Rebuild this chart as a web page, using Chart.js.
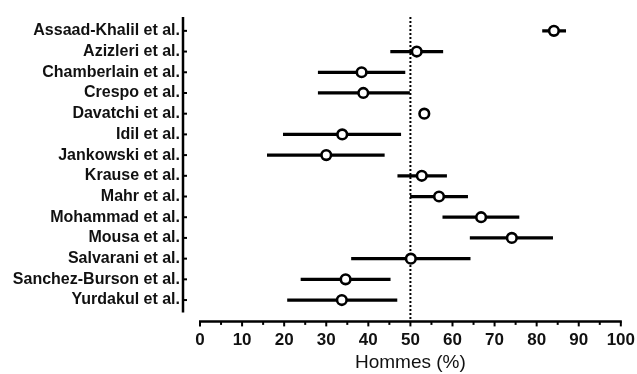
<!DOCTYPE html>
<html>
<head>
<meta charset="utf-8">
<script src="https://cdn.jsdelivr.net/npm/chart.js@4.4.1/dist/chart.umd.min.js"></script>
<style>
  html, body { margin: 0; padding: 0; background: #fff; }
</style>
</head>
<body>
<canvas id="graphique" width="637" height="374"></canvas>
<script>
// études (axe Y), de haut en bas
const etudes = [
  'Assaad-Khalil et al.', 'Azizleri et al.', 'Chamberlain et al.', 'Crespo et al.',
  'Davatchi et al.', 'Idil et al.', 'Jankowski et al.', 'Krause et al.',
  'Mahr et al.', 'Mohammad et al.', 'Mousa et al.', 'Salvarani et al.',
  'Sanchez-Burson et al.', 'Yurdakul et al.'
];
// proportion d'hommes (%) et intervalle de confiance
const pourcentHommes = [84.1, 51.5, 38.4, 38.8, 53.3, 33.8, 30, 52.7, 56.8, 66.8, 74.1, 50.1, 34.6, 33.7];
const icBas  = [81.4, 45.3, 28.1, 28.1, null, 19.8, 16, 47, 50, 57.7, 64.2, 36, 24, 20.8];
const icHaut = [86.9, 57.7, 48.7, 49.8, null, 47.7, 43.8, 58.6, 63.6, 75.8, 83.8, 64.2, 45.2, 46.8];
const ticksX = [0, 10, 20, 30, 40, 50, 60, 70, 80, 90, 100];
const valeurReference = 50;

const police = "'Liberation Sans', Arial, sans-serif";

// axes façon Prism : axe Y décalé, ticks mineurs, ligne de référence pointillée
const axesPrism = {
  id: 'axesPrism',
  beforeDatasetsDraw(chart) {
    const { ctx, chartArea, scales: { x, y } } = chart;
    const axeYx = chartArea.left - 17;
    const axeXy = chartArea.bottom + 11;
    ctx.save();
    ctx.strokeStyle = '#000';

    ctx.lineWidth = 2;
    ctx.setLineDash([2, 2]);
    const xRef = x.getPixelForValue(valeurReference);
    ctx.beginPath();
    ctx.moveTo(xRef, 17);
    ctx.lineTo(xRef, axeXy);
    ctx.stroke();
    ctx.setLineDash([]);

    ctx.lineWidth = 2.5;
    ctx.beginPath();
    ctx.moveTo(axeYx, 17);
    ctx.lineTo(axeYx, chartArea.bottom + 2);
    ctx.stroke();
    ctx.lineWidth = 2;
    y.ticks.forEach((t, i) => {
      const py = y.getPixelForTick(i);
      ctx.beginPath();
      ctx.moveTo(axeYx, py);
      ctx.lineTo(axeYx + 4, py);
      ctx.stroke();
    });

    ctx.lineWidth = 2.5;
    ctx.beginPath();
    ctx.moveTo(x.getPixelForValue(ticksX[0]) - 1, axeXy);
    ctx.lineTo(x.getPixelForValue(ticksX[ticksX.length - 1]) + 1, axeXy);
    ctx.stroke();
    ctx.lineWidth = 2;
    ticksX.forEach((v, i) => {
      const px = x.getPixelForValue(v);
      ctx.beginPath();
      ctx.moveTo(px, axeXy);
      ctx.lineTo(px, axeXy + 5);
      ctx.stroke();
      if (i < ticksX.length - 1) {
        const pm = x.getPixelForValue((v + ticksX[i + 1]) / 2);
        ctx.beginPath();
        ctx.moveTo(pm, axeXy);
        ctx.lineTo(pm, axeXy + 3.5);
        ctx.stroke();
      }
    });
    ctx.restore();
  }
};

new Chart(document.getElementById('graphique'), {
  type: 'bar',
  data: {
    labels: etudes,
    datasets: [
      {
        type: 'line',
        data: etudes.map((e, i) => ({ x: pourcentHommes[i], y: e })),
        showLine: false,
        pointRadius: 4.8,
        pointBorderWidth: 2.6,
        pointBackgroundColor: '#fff',
        pointBorderColor: '#000',
        order: 0
      },
      {
        data: etudes.map((e, i) => icBas[i] == null ? null : [icBas[i], icHaut[i]]),
        backgroundColor: '#000',
        barThickness: 2.6,
        order: 1
      }
    ]
  },
  options: {
    indexAxis: 'y',
    responsive: false,
    animation: false,
    layout: { padding: { top: 20.5, right: 16, left: 0, bottom: 0 } },
    plugins: { legend: { display: false }, tooltip: { enabled: false } },
    scales: {
      x: {
        type: 'linear',
        min: 0,
        max: 100,
        afterBuildTicks: (s) => { s.ticks = ticksX.map(v => ({ value: v })); },
        // ticks transparents : ils ne servent qu'à décaler les étiquettes
        grid: { display: true, drawOnChartArea: false, drawTicks: true, tickLength: 18, tickColor: 'rgba(0,0,0,0)' },
        border: { display: false },
        ticks: {
          color: '#111',
          padding: 2,
          autoSkip: false,
          maxRotation: 0,
          font: { family: police, size: 17, weight: 'bold' }
        },
        title: {
          display: true,
          text: 'Hommes (%)',
          color: '#111',
          padding: { top: 0, bottom: 0 },
          font: { family: police, size: 19 }
        },
        afterFit: (s) => { s.height = 63.6; }
      },
      y: {
        type: 'category',
        offset: true,
        grid: { display: true, drawOnChartArea: false, drawTicks: true, tickLength: 17, tickColor: 'rgba(0,0,0,0)' },
        border: { display: false },
        ticks: {
          color: '#111',
          padding: 3,
          autoSkip: false,
          font: { family: police, size: 16, weight: 'bold' }
        },
        afterFit: (s) => { s.width = 200; }
      }
    }
  },
  plugins: [axesPrism]
});
</script>
</body>
</html>
